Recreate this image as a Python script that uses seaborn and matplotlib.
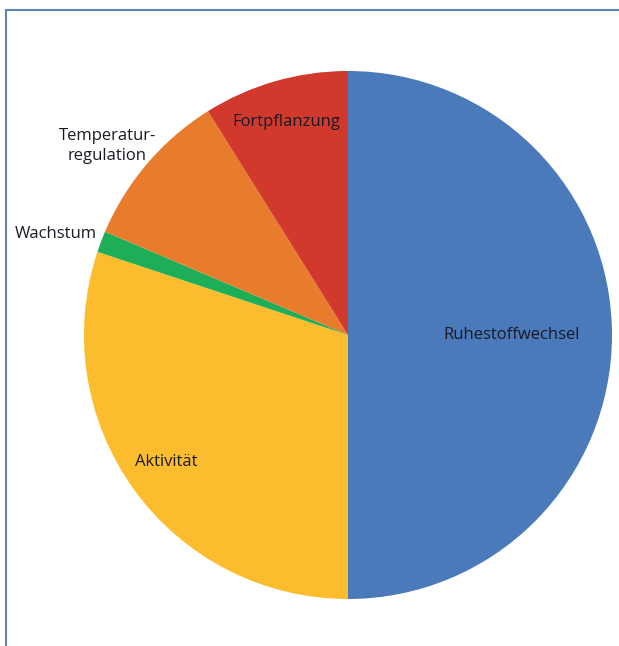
import numpy as np
import matplotlib
matplotlib.use("Agg")
import matplotlib.pyplot as plt
from matplotlib.lines import Line2D
import seaborn as sns

categories = ["Ruhestoffwechsel", "Aktivität", "Wachstum", "Temperatur-\nregulation", "Fortpflanzung"]
values = [50.0, 30.1, 1.3, 9.7, 8.9]
colors = ["#4a7aba", "#fbbd2e", "#1fae58", "#e97b2c", "#d1392c"]

sns.set_theme(style="white")
plt.rcParams["font.family"] = ["Open Sans", "DejaVu Sans"]

W, H = 619, 646
fig = plt.figure(figsize=(W / 100, H / 100), dpi=100)
fig.patch.set_facecolor("white")

cx, cy, r = 348, 335, 264
ax = fig.add_axes([(cx - r) / W, (H - cy - r) / H, 2 * r / W, 2 * r / H])
wedges, _ = ax.pie(values, colors=colors, startangle=90, counterclock=False,
                   radius=1.0, wedgeprops=dict(linewidth=0))
ax.set_xlim(-1, 1)
ax.set_ylim(-1, 1)
ax.set_aspect("equal")
ax.axis("off")

# label placement: (distance factor, angle offset in degrees)
label_pos = [(0.62, 0.0), (0.84, -0.9), (1.17, 1.7), (1.16, 2.4), (0.84, 0.2)]
for w, lab, (d, off) in zip(wedges, categories, label_pos):
    ang = np.deg2rad((w.theta1 + w.theta2) / 2 + off)
    ax.text(d * np.cos(ang), d * np.sin(ang), lab, ha="center", va="center",
            fontsize=12, color="#1a1a26", linespacing=1.4, clip_on=False)

# frame lines (top and left)
fig.add_artist(Line2D([6 / W, 1.0], [1 - 10 / H, 1 - 10 / H], transform=fig.transFigure,
                      color="#5b86b0", linewidth=1.5))
fig.add_artist(Line2D([6 / W, 6 / W], [0.0, 1 - 10 / H], transform=fig.transFigure,
                      color="#5b86b0", linewidth=1.5))

fig.savefig("out.png", dpi=100, facecolor="white")
